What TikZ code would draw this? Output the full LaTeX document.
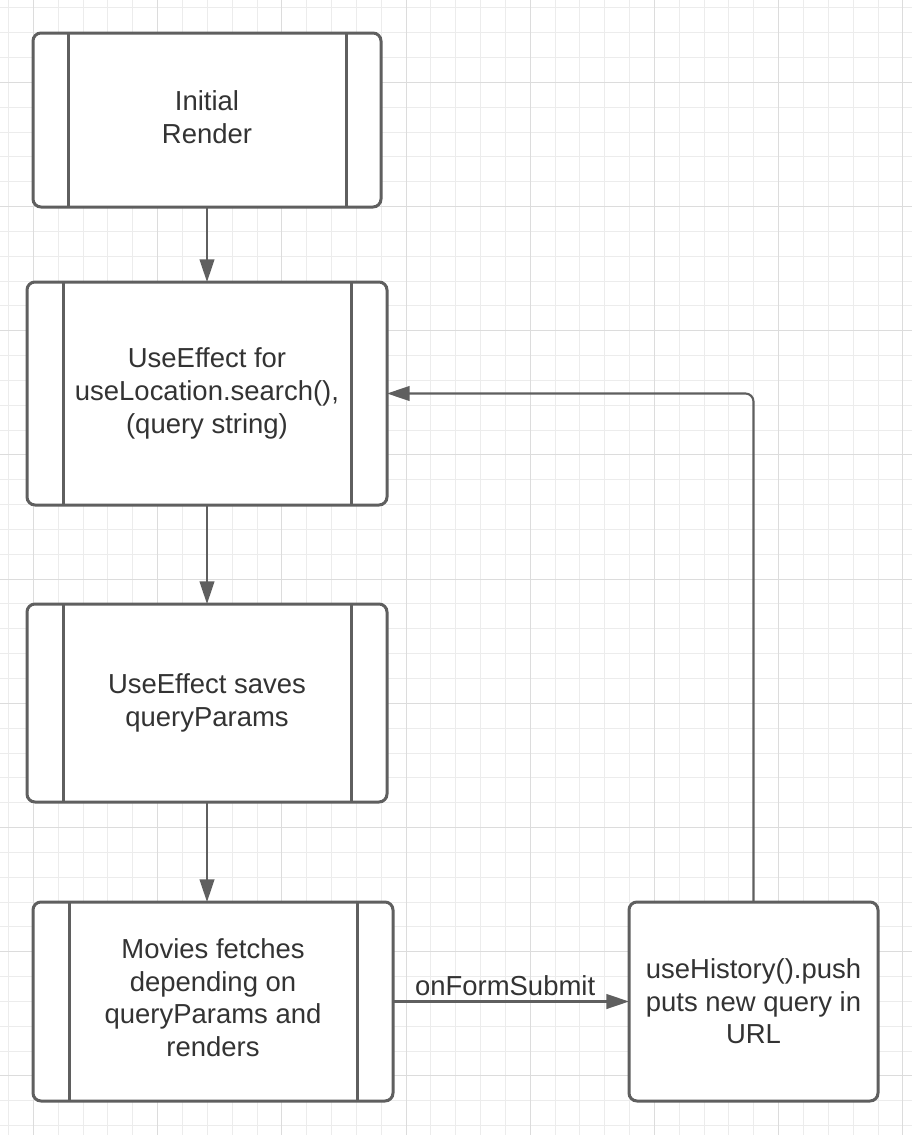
\documentclass[tikz,border=0pt]{standalone}
\usepackage{fontspec}
\setmainfont{Liberation Sans}
\usetikzlibrary{arrows.meta}

\definecolor{gridminor}{HTML}{ECECEC}
\definecolor{gridmajor}{HTML}{DCDCDC}
\definecolor{edge}{HTML}{5F5F5F}
\definecolor{ink}{HTML}{333333}

\tikzset{
  box/.style={draw=edge, line width=2.25pt, rounded corners=6pt, fill=white,
    inner sep=0pt, outer sep=0pt, align=center, text=ink,
    font=\fontsize{20.6pt}{24.5pt}\selectfont},
  bar/.style={draw=edge, line width=2.25pt},
  link/.style={draw=edge, line width=1.6pt, -{Triangle[length=17pt,width=11pt]}},
  tag/.style={text=ink, inner sep=0pt, font=\fontsize{20.6pt}{24.5pt}\selectfont},
}

\begin{document}
\begin{tikzpicture}[x=0.75pt,y=-0.75pt]
  % page area and background grid
  \useasboundingbox (0,0) rectangle (912,1135);
  \fill[white] (0,0) rectangle (912,1135);
  \begin{scope}[line width=0.75pt]
    \foreach \k in {0,...,36} {
      \draw[gridminor] ({8.6+24.84*\k},0) -- ({8.6+24.84*\k},1135);
    }
    \foreach \k in {0,...,45} {
      \draw[gridminor] (0,{7.8+24.84*\k}) -- (912,{7.8+24.84*\k});
    }
    \foreach \k in {0,...,7} {
      \draw[gridmajor] ({33.44+124.2*\k},0) -- ({33.44+124.2*\k},1135);
    }
    \foreach \k in {0,...,8} {
      \draw[gridmajor] (0,{82.3+124.2*\k}) -- (912,{82.3+124.2*\k});
    }
  \end{scope}

  % process boxes (text depth lifts the text block slightly)
  \node[box, minimum width=261pt, minimum height=130.5pt, text depth=4.5pt] (b1) at (207,120)
    {Initial\\Render};
  \node[box, minimum width=270pt, minimum height=167.25pt] (b2) at (207,393.5)
    {UseEffect for\\useLocation.search(),\\(query string)};
  \node[box, minimum width=270pt, minimum height=148.5pt] (b3) at (207,703)
    {UseEffect saves\\queryParams};
  \node[box, minimum width=270pt, minimum height=149.25pt, text depth=6pt] (b4) at (213,1001.5)
    {Movies fetches\\depending on\\queryParams and\\renders};
  \node[box, minimum width=186.75pt, minimum height=149.25pt] (b5) at (753.5,1001.5)
    {useHistory().push\\puts new query in\\URL};

  % side bars of the predefined-process boxes
  \foreach \n/\d in {b1/26.25pt, b2/27pt, b3/27pt, b4/27pt} {
    \draw[bar] ([xshift=\d]\n.north west) -- ([xshift=\d]\n.south west);
    \draw[bar] ([xshift=-\d]\n.north east) -- ([xshift=-\d]\n.south east);
  }

  % connectors
  \draw[link] (b1.south) -- (b2.north);
  \draw[link] (b2.south) -- (b3.north);
  \draw[link] (b3.south) -- (b3.south |- b4.north);
  \draw[link] (b4.east) -- node[tag, pos=0.475, above=3.5pt] {onFormSubmit} (b5.west);
  \draw[link, rounded corners=6pt] (b5.north) |- (b2.east);
\end{tikzpicture}
\end{document}
